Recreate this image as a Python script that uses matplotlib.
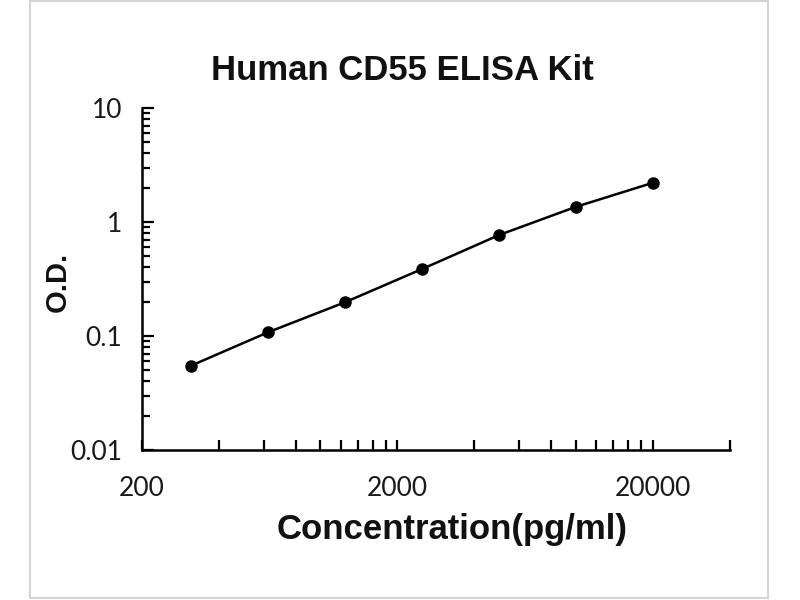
import matplotlib
matplotlib.use("Agg")
import matplotlib.pyplot as plt
from matplotlib.ticker import FixedLocator, NullFormatter, FixedFormatter
from matplotlib.patches import Rectangle

# Data
concentration = [312.5, 625, 1250, 2500, 5000, 10000, 20000]
od_values = [0.055, 0.108, 0.198, 0.387, 0.769, 1.36, 2.21]

title_text = "Human CD55 ELISA Kit"
x_label = "Concentration(pg/ml)"
y_label = "O.D."
x_major_ticks = [200, 2000, 20000]
x_tick_labels = ["200", "2000", "20000"]
y_major_ticks = [0.01, 0.1, 1, 10]
y_tick_labels = ["0.01", "0.1", "1", "10"]

fig = plt.figure(figsize=(8, 6), dpi=100)
fig.patch.set_facecolor("white")

# light gray outer frame
fig.patches.append(Rectangle((29.5 / 800, 1 - 598 / 600), (768 - 29.5) / 800, 597 / 600,
                             transform=fig.transFigure, fill=False,
                             edgecolor="#d4d4d4", linewidth=1.5))

ax = fig.add_axes([141.7 / 800, 1 - 450 / 600, (730 - 141.7) / 800, (450 - 108) / 600])
ax.set_xscale("log")
ax.set_yscale("log")
ax.set_xlim(200, 40000)
ax.set_ylim(0.01, 10)

ax.plot(concentration, od_values, color="black", linewidth=1.8,
        marker="o", markersize=8, markerfacecolor="black", markeredgecolor="black",
        clip_on=False)

for side in ["top", "right"]:
    ax.spines[side].set_visible(False)
for side in ["left", "bottom"]:
    ax.spines[side].set_linewidth(1.8)
    ax.spines[side].set_color("black")

# x ticks
x_minor = [200 * k for k in range(2, 10)] + [2000 * k for k in range(2, 10)] + [40000]
ax.xaxis.set_major_locator(FixedLocator(x_major_ticks))
ax.xaxis.set_major_formatter(FixedFormatter(x_tick_labels))
ax.xaxis.set_minor_locator(FixedLocator(x_minor))
ax.xaxis.set_minor_formatter(NullFormatter())

# y ticks
y_minor = [d * k for d in [0.01, 0.1, 1] for k in range(2, 10)]
ax.yaxis.set_major_locator(FixedLocator(y_major_ticks))
ax.yaxis.set_major_formatter(FixedFormatter(y_tick_labels))
ax.yaxis.set_minor_locator(FixedLocator(y_minor))
ax.yaxis.set_minor_formatter(NullFormatter())

ax.tick_params(axis="x", which="both", direction="in", length=7, width=1.6,
               pad=19, labelsize=19, colors="black")
ax.tick_params(axis="y", which="major", direction="in", length=8.6, width=1.6,
               pad=14, labelsize=19, colors="black")
ax.tick_params(axis="y", which="minor", direction="in", length=5.8, width=1.6)

for lab in ax.get_xticklabels() + ax.get_yticklabels():
    lab.set_fontfamily("Lato")
    lab.set_color("#1a1a1a")

fig.text(402 / 800, 1 - 70 / 600, title_text, ha="center", va="center",
         fontsize=25, fontweight="bold", family="Liberation Sans", color="#111111")
fig.text(452 / 800, 1 - 530 / 600, x_label, ha="center", va="center",
         fontsize=25, fontweight="bold", family="Liberation Sans", color="#111111")
fig.text(58 / 800, 1 - 282 / 600, y_label, ha="center", va="center", rotation=90,
         fontsize=21, fontweight="bold", family="Liberation Sans", color="#111111")

fig.savefig("out.png", dpi=100, facecolor="white")
